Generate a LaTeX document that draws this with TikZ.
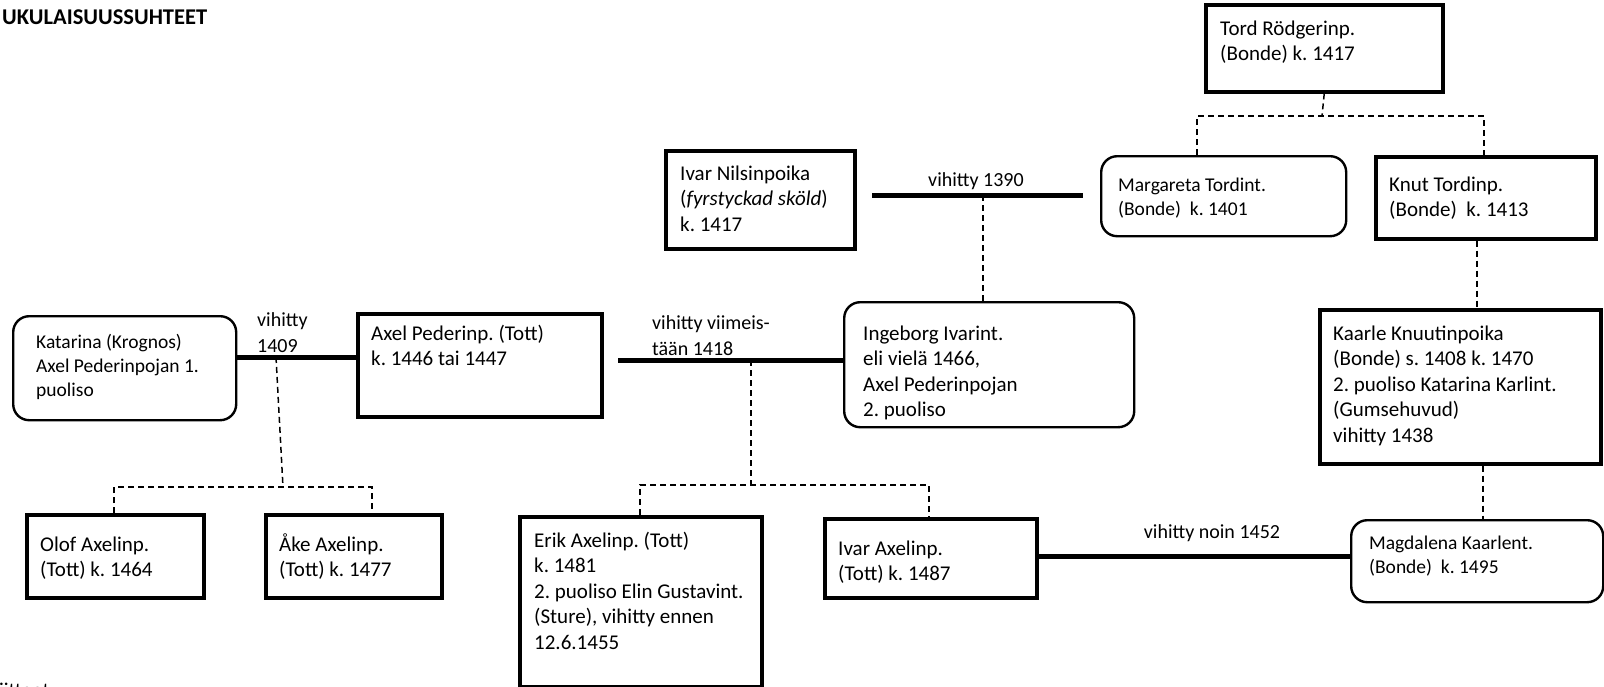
\documentclass[tikz,border=0pt]{standalone}
\usepackage{fontspec}
\setmainfont{Carlito}
\frenchspacing
\newcommand{\mylines}[1]{\begin{tabular}[t]{@{}l@{}}#1\end{tabular}}
\tikzset{
  sharpbox/.style={draw, line width=3.5pt, inner sep=0pt, anchor=north west},
  roundbox/.style={draw, line width=2.4pt, rounded corners=16pt, inner sep=0pt, anchor=north west},
  marr/.style={line width=5pt},
  kin/.style={line width=1.5pt, dash pattern=on 6pt off 4pt},
  txt/.style={inner sep=0pt, anchor=base west, font=\fontsize{21}{25.5}\selectfont\frenchspacing},
  stxt/.style={inner sep=0pt, anchor=base west, font=\fontsize{19.5}{24}\selectfont\frenchspacing},
  lbl/.style={inner sep=0pt, font=\fontsize{20}{26}\selectfont\frenchspacing},
}
\begin{document}
\begin{tikzpicture}[x=1pt,y=-1pt]
\fill[white] (0,0) rectangle (1604,686);
\useasboundingbox (0,0) rectangle (1604,686);

\node[inner sep=0pt, anchor=base west, font=\bfseries\fontsize{22.5}{26}\selectfont] (title) at (2,24) {UKULAISUUSSUHTEET};
\node[inner sep=0pt, anchor=base west, font=\fontsize{21}{25}\selectfont] (foot) at (-10,697) {Liitteet};

% boxes
\node[sharpbox, minimum width=237pt, minimum height=87pt] (tord) at (1204,3) {};
\node[roundbox, minimum width=245pt, minimum height=80pt] (marg) at (1100,155) {};
\node[sharpbox, minimum width=220pt, minimum height=82pt] (knut) at (1374,155) {};
\node[sharpbox, minimum width=189pt, minimum height=98pt] (ivarn) at (664,149) {};
\node[roundbox, minimum width=290pt, minimum height=125pt] (inge) at (843,301) {};
\node[sharpbox, minimum width=244pt, minimum height=103pt] (axel) at (356,312) {};
\node[roundbox, minimum width=223pt, minimum height=104pt] (kat) at (12,315) {};
\node[sharpbox, minimum width=281pt, minimum height=154pt] (kaarle) at (1318,308) {};
\node[sharpbox, minimum width=177pt, minimum height=83pt] (olof) at (25,513) {};
\node[sharpbox, minimum width=176pt, minimum height=83pt] (ake) at (264,513) {};
\node[sharpbox, minimum width=242pt, minimum height=170pt] (erik) at (518,515) {};
\node[sharpbox, minimum width=212pt, minimum height=79pt] (ivara) at (823,517) {};
\node[roundbox, minimum width=252pt, minimum height=82pt] (magd) at (1350,519) {};

% texts
\node[txt] (tord-t) at (1220,35) {\mylines{Tord Rödgerinp.\\(Bonde) k. 1417}};
\node[stxt] (marg-t) at (1118,191) {\mylines{Margareta Tordint.\\(Bonde)\ \ k. 1401}};
\node[txt] (knut-t) at (1389,191) {\mylines{Knut Tordinp.\\(Bonde)\ \ k. 1413}};
\node[txt] (ivarn-t) at (680,180) {\mylines{Ivar Nilsinpoika\\(\textit{fyrstyckad sköld})\\k. 1417}};
\node[txt] (inge-t) at (863,340) {\mylines{Ingeborg Ivarint.\\eli vielä 1466,\\Axel Pederinpojan\\2. puoliso}};
\node[txt] (axel-t) at (371,340) {\mylines{Axel Pederinp. (Tott)\\k. 1446 tai 1447}};
\node[stxt] (kat-t) at (36,348) {\mylines{Katarina (Krognos)\\Axel Pederinpojan 1.\\puoliso}};
\node[txt] (kaarle-t) at (1333,340) {\mylines{Kaarle Knuutinpoika\\(Bonde) s. 1408 k. 1470\\2. puoliso Katarina Karlint.\\(Gumsehuvud)\\vihitty 1438}};
\node[txt] (olof-t) at (40,551) {\mylines{Olof Axelinp.\\(Tott) k. 1464}};
\node[txt] (ake-t) at (279,551) {\mylines{Åke Axelinp.\\(Tott) k. 1477}};
\node[txt] (erik-t) at (534,547) {\mylines{Erik Axelinp. (Tott)\\k. 1481\\2. puoliso Elin Gustavint.\\(Sture), vihitty ennen\\12.6.1455}};
\node[txt] (ivara-t) at (838,555) {\mylines{Ivar Axelinp.\\(Tott) k. 1487}};
\node[stxt] (magd-t) at (1369,549) {\mylines{Magdalena Kaarlent.\\(Bonde)\ \ k. 1495}};

% Tord's children
\coordinate (tj) at (1322,116);
\coordinate (tl) at (1197,116);
\coordinate (tr) at (1484,116);
\draw[kin] (tord.south) -- (tj);
\draw[kin] (tl |- marg.north) -- (tl) -- (tr) -- (tr |- knut.north);
% Knut -> Kaarle -> Magdalena
\coordinate (kk) at (1477,0);
\draw[kin] (kk |- knut.south) -- (kk |- kaarle.north);
\coordinate (km) at (1483,0);
\draw[kin] (km |- kaarle.south) -- (km |- magd.north);

% marriage 1390
\coordinate (m1a) at (872,195);
\coordinate (m1b) at (1083,195);
\draw[marr] (m1a) -- (m1b);
\node[lbl, anchor=base] (l1390) at (976,186) {vihitty 1390};
\coordinate (d1390) at (983,195);
\draw[kin] (d1390) -- (d1390 |- inge.north);

% marriage 1418
\coordinate (m2a) at (618,360);
\draw[marr] (m2a) -- (inge.west |- m2a);
\node[lbl, anchor=base west] (l1418) at (652,329) {\mylines{vihitty viimeis-\\tään 1418}};
\coordinate (d2a) at (751,360);
\coordinate (d2b) at (751,485);
\coordinate (d2l) at (640,485);
\coordinate (d2r) at (929,485);
\draw[kin] (d2a) -- (d2b);
\draw[kin] (d2l |- erik.north) -- (d2l) -- (d2r) -- (d2r |- ivara.north);

% marriage 1409
\coordinate (m3) at (0,357);
\draw[marr] (kat.east |- m3) -- (axel.west |- m3);
\node[lbl, anchor=base west] (l1409) at (257,326) {\mylines{vihitty\\1409}};
\coordinate (d3a) at (276,357);
\coordinate (d3b) at (283,487);
\coordinate (d3l) at (114,487);
\coordinate (d3r) at (372,487);
\draw[kin] (d3a) -- (d3b);
\draw[kin] (d3l |- olof.north) -- (d3l) -- (d3r) -- (d3r |- ake.north);

% marriage 1452
\coordinate (m4) at (0,556);
\draw[marr] (ivara.east |- m4) -- (magd.west |- m4);
\node[lbl, anchor=base] (l1452) at (1212,538) {vihitty noin 1452};
\end{tikzpicture}
\end{document}
